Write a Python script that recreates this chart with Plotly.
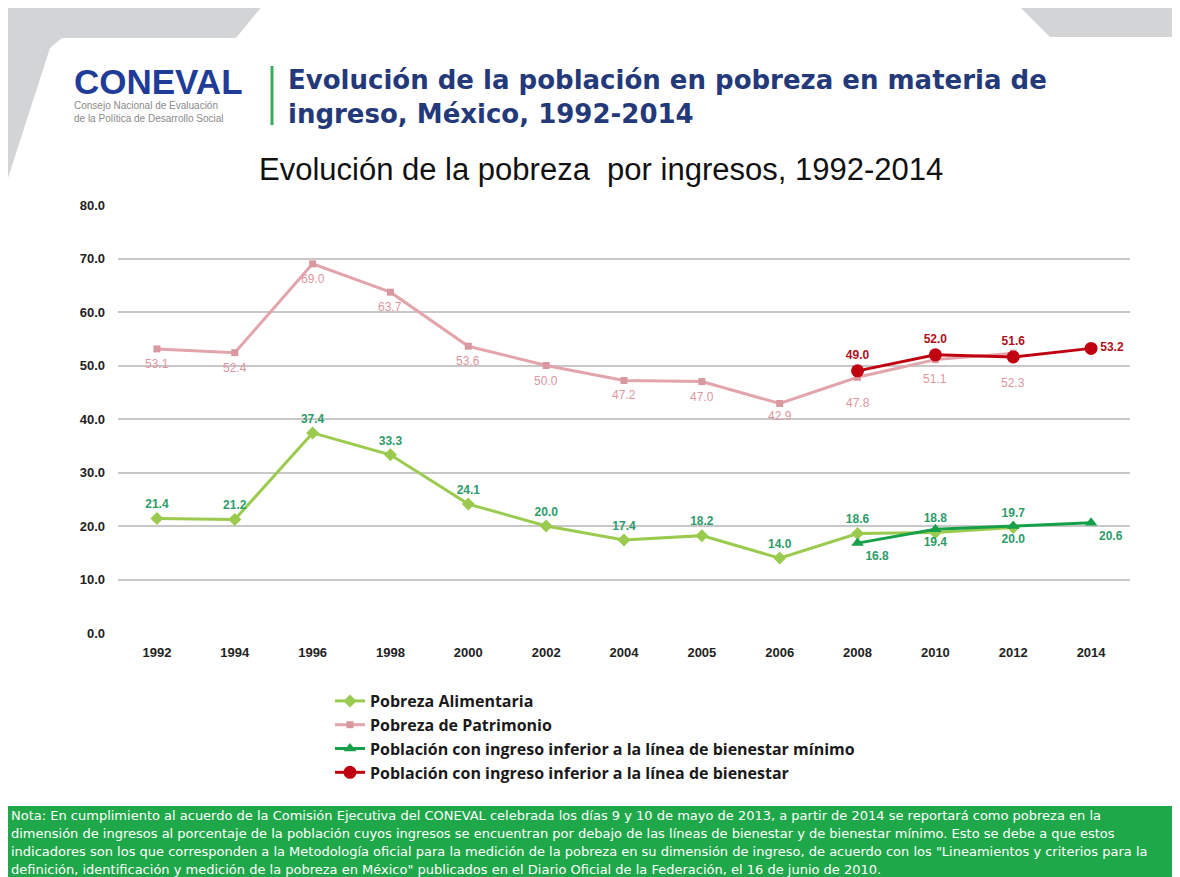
import plotly.graph_objects as go

years = ["1992", "1994", "1996", "1998", "2000", "2002", "2004", "2005", "2006", "2008", "2010", "2012", "2014"]
alimentaria = [21.4, 21.2, 37.4, 33.3, 24.1, 20.0, 17.4, 18.2, 14.0, 18.6, 18.8, 19.7, None]
patrimonio = [53.1, 52.4, 69.0, 63.7, 53.6, 50.0, 47.2, 47.0, 42.9, 47.8, 51.1, 52.3, None]
bien_min_years = ["2008", "2010", "2012", "2014"]
bienestar_minimo = [16.8, 19.4, 20.0, 20.6]
bien_years = ["2008", "2010", "2012", "2014"]
bienestar = [49.0, 52.0, 51.6, 53.2]
y_ticks = [0, 10, 20, 30, 40, 50, 60, 70, 80]

# label offsets (px) for the Patrimonio values, as placed in the original
patrimonio_label_shift = [-15, -15, -15, -15, -15, -15, -15, -15, -13, -26, -19, -30, 0]

# page has an 8px body margin: figure coords = screen coords - 8
OFF = 8
W, H = 1180 - OFF, 877 - OFF
L, R, T, B = 118, 1130, 205, 633  # screen pixels of plot area


def px(x):
    return (x - L) / (R - L)


def py(y):
    return (B - y) / (B - T)


fig = go.Figure()

fig.add_trace(go.Scatter(
    x=years, y=alimentaria, name="Pobreza Alimentaria", mode="lines+markers+text",
    line=dict(color="#9BCB4E", width=3), marker=dict(symbol="diamond", size=10, color="#9BCB4E"),
    text=[f"{v:.1f}" if v is not None else "" for v in alimentaria], textposition="top center",
    textfont=dict(family="Liberation Sans", size=12, color="#2E9C6A", weight="bold"),
    cliponaxis=False,
))
fig.add_trace(go.Scatter(
    x=years, y=patrimonio, name="Pobreza de Patrimonio", mode="lines+markers",
    line=dict(color="#E2A5AC", width=3), marker=dict(symbol="square", size=7, color="#D9979F"),
    cliponaxis=False,
))
fig.add_trace(go.Scatter(
    x=bien_min_years, y=bienestar_minimo, name="Población con ingreso inferior a la línea de bienestar mínimo",
    mode="lines+markers+text",
    line=dict(color="#16A04A", width=3), marker=dict(symbol="triangle-up", size=11, color="#16A04A"),
    text=[f"{v:.1f}" for v in bienestar_minimo],
    textposition=["bottom right", "bottom center", "bottom center", "bottom right"],
    textfont=dict(family="Liberation Sans", size=12, color="#2E9C6A", weight="bold"),
    cliponaxis=False,
))
fig.add_trace(go.Scatter(
    x=bien_years, y=bienestar, name="Población con ingreso inferior a la línea de bienestar",
    mode="lines+markers+text",
    line=dict(color="#C00010", width=3), marker=dict(symbol="circle", size=13, color="#C00010"),
    text=[f"{v:.1f}" for v in bienestar],
    textposition=["top center", "top center", "top center", "middle right"],
    textfont=dict(family="Liberation Sans", size=12, color="#B0101A", weight="bold"),
    cliponaxis=False,
))

shapes = [
    dict(type="path", xref="paper", yref="paper", layer="below",
         path=(f"M {px(5)},{py(5)} L {px(263)},{py(5)} L {px(236)},{py(38)} L {px(62)},{py(38)} "
               f"L {px(50)},{py(48)} L {px(8)},{py(178)} L {px(5)},{py(178)} Z"),
         fillcolor="#D2D4D6", line=dict(width=0)),
    dict(type="path", xref="paper", yref="paper", layer="below",
         path=f"M {px(1018)},{py(5)} L {px(1173)},{py(5)} L {px(1173)},{py(37)} L {px(1050)},{py(37)} Z",
         fillcolor="#D2D4D6", line=dict(width=0)),
    dict(type="rect", xref="paper", yref="paper", layer="below",
         x0=px(1173), x1=px(1182), y0=py(0), y1=py(880), fillcolor="#5A5A5A", line=dict(width=0)),
    dict(type="rect", xref="paper", yref="paper", layer="below",
         x0=px(0), x1=px(1173), y0=py(806), y1=py(880), fillcolor="#1FA84A", line=dict(width=0)),
    dict(type="line", xref="paper", yref="paper",
         x0=px(272), x1=px(272), y0=py(66), y1=py(125), line=dict(color="#3BAA5C", width=3)),
]

annotations = [
    dict(text="CONEVAL", x=px(72), y=py(81), xref="paper", yref="paper", xanchor="left", yanchor="middle",
         showarrow=False, font=dict(family="Liberation Sans", size=35, color="#1F3C99", weight="bold")),
    dict(text="Consejo Nacional de Evaluación<br>de la Política de Desarrollo Social", x=px(72), y=py(112),
         xref="paper", yref="paper", xanchor="left", yanchor="middle", align="left", showarrow=False,
         font=dict(family="Liberation Sans", size=10, color="#8A8A8A")),
    dict(text="Evolución de la población en pobreza en materia de<br>ingreso, México, 1992-2014",
         x=px(286), y=py(97), xref="paper", yref="paper", xanchor="left", yanchor="middle", align="left",
         showarrow=False, font=dict(family="DejaVu Sans", size=26, color="#24397A", weight="bold")),
    dict(text="Evolución de la pobreza  por ingresos, 1992-2014", x=px(601), y=py(169),
         xref="paper", yref="paper", xanchor="center", yanchor="middle", showarrow=False,
         font=dict(family="Liberation Sans", size=31, color="#111111")),
]

for i, (v, s) in enumerate(zip(patrimonio, patrimonio_label_shift)):
    if v is None:
        continue
    annotations.append(dict(
        text=f"{v:.1f}", x=i, y=v, xref="x", yref="y", yshift=s, showarrow=False,
        xanchor="center", yanchor="middle",
        font=dict(family="Liberation Sans", size=12, color="#E0969E")))

footer_lines = [
    "Nota: En cumplimiento al acuerdo de la Comisión Ejecutiva del CONEVAL celebrada los días 9 y 10 de mayo de 2013, a partir de 2014 se reportará como pobreza en la",
    "dimensión de ingresos al porcentaje de la población cuyos ingresos se encuentran por debajo de las líneas de bienestar y de bienestar mínimo. Esto se debe a que estos",
    "indicadores son los que corresponden a la Metodología oficial para la medición de la pobreza en su dimensión de ingreso, de acuerdo con los \"Lineamientos y criterios para la",
    "definición, identificación y medición de la pobreza en México\" publicados en el Diario Oficial de la Federación, el 16 de junio de 2010.",
]
for i, line in enumerate(footer_lines):
    annotations.append(dict(
        text=line, x=px(9), y=py(815 + i * 18), xref="paper", yref="paper", xanchor="left", yanchor="middle",
        showarrow=False, font=dict(family="DejaVu Sans", size=13, color="#FFFFFF")))

fig.update_layout(
    width=W, height=H,
    margin=dict(l=L - OFF, r=W - (R - OFF), t=T - OFF, b=H - (B - OFF), autoexpand=False),
    paper_bgcolor="white", plot_bgcolor="white",
    shapes=shapes, annotations=annotations,
    showlegend=True,
    legend=dict(x=px(330), y=py(684), xanchor="left", yanchor="top", orientation="v",
                font=dict(family="Open Sans", size=16, color="#1A1A1A", weight="bold"),
                bgcolor="rgba(0,0,0,0)", itemwidth=30, tracegroupgap=0),
    xaxis=dict(type="category", categoryorder="array", categoryarray=years, range=[-0.5, 12.5],
               showgrid=False, showline=False, zeroline=False, ticks="", ticklabelstandoff=10,
               tickfont=dict(family="Liberation Sans", size=13, color="#222222", weight="bold")),
    yaxis=dict(range=[0, 80], tickvals=y_ticks, tickformat=".1f", showgrid=True, gridcolor="#C8C8C8",
               gridwidth=1.5, zeroline=False, showline=False, ticks="", ticklabelstandoff=12,
               tickfont=dict(family="Liberation Sans", size=13, color="#222222", weight="bold")),
)

fig.write_html("out.html")
